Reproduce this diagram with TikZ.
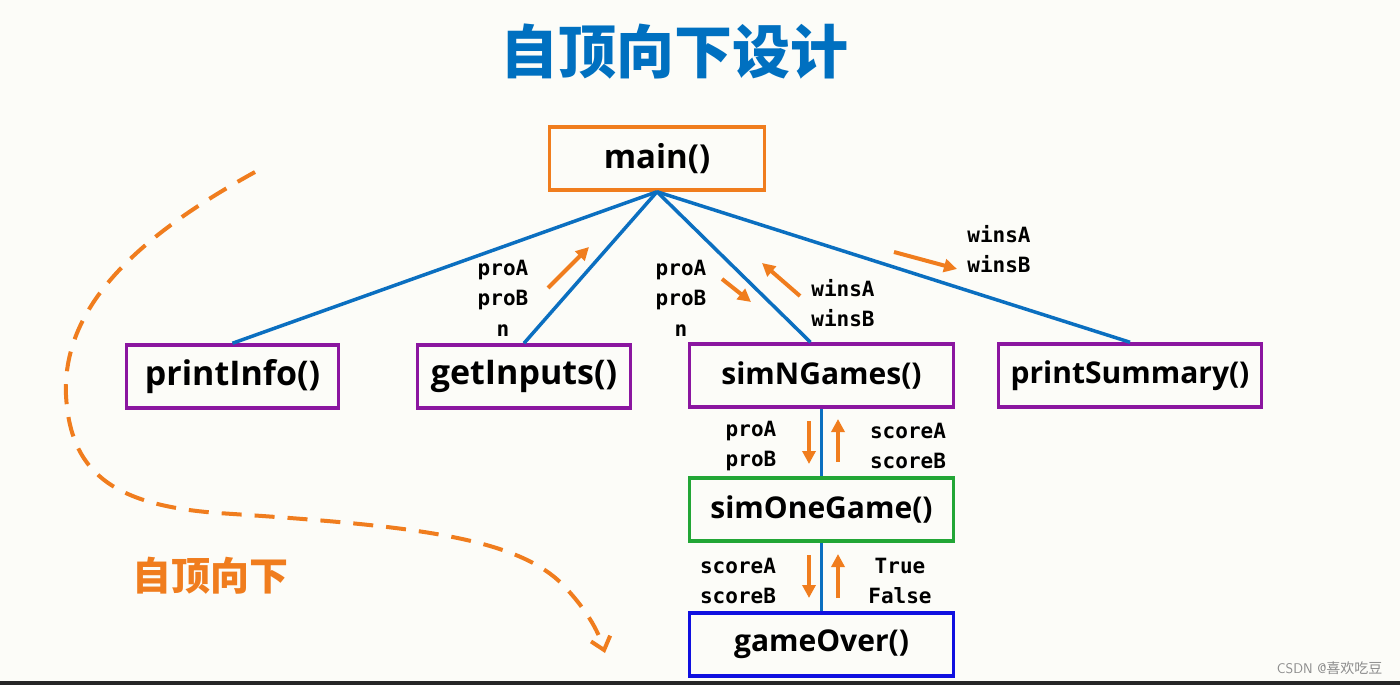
\documentclass[tikz,border=0pt]{standalone}
\usepackage{fontspec}
\setmainfont{Open Sans}
\newfontfamily\cjk{Noto Sans CJK SC}
\newfontfamily\mono{DejaVu Sans Mono}
\usetikzlibrary{arrows.meta,calc}
\definecolor{bg}{HTML}{FCFCF8}
\definecolor{tblue}{HTML}{0070C0}
\definecolor{lblue}{HTML}{0B6FC0}
\definecolor{ora}{HTML}{F07D1E}
\definecolor{pur}{HTML}{8B16A0}
\definecolor{grn}{HTML}{22A636}
\definecolor{dblue}{HTML}{1010E0}
\tikzset{
  fbox/.style={draw, line width=3.5pt, minimum width=#1, minimum height=63pt, inner sep=0pt,
    font=\fontsize{30}{32}\selectfont\bfseries, text=black},
  bigtxt/.style={font=\fontsize{34}{36}\selectfont\bfseries},
  link/.style={draw=lblue, line width=3.5pt},
  flow/.style={draw=ora, line width=4pt, -{Triangle[length=13pt,width=13pt]}},
  lbl/.style={font=\mono\bfseries\fontsize{21}{30.5}\selectfont, align=left, inner sep=0pt, text=black},
}
\begin{document}
\begin{tikzpicture}[x=1pt,y=-1pt]
\fill[bg] (0,0) rectangle (1400,685);
\useasboundingbox (0,0) rectangle (1400,685);
\fill[black!85] (0,681) rectangle (1400,685);
% title
\node[text=tblue, font=\cjk\bfseries\fontsize{58}{60}\selectfont] (title) at (674,52) {自顶向下设计};
% boxes
\node[fbox=215pt, draw=ora, font=\fontsize{33}{35}\selectfont\bfseries] (main) at (657,158.5) {main()};
\node[fbox=212pt, draw=pur, bigtxt] (pi) at (232.5,376.5) {printInfo()};
\node[fbox=213pt, draw=pur, bigtxt] (gi) at (524,376.5) {getInputs()};
\node[fbox=264pt, draw=pur] (sn) at (821.5,375.5) {simNGames()};
\node[fbox=263pt, draw=pur] (ps) at (1130,375.5) {printSummary()};
\node[fbox=264pt, draw=grn] (so) at (821.5,509.5) {simOneGame()};
\node[fbox=264pt, draw=dblue] (go) at (821.5,644.5) {gameOver()};
% links
\draw[link] (main.south) -- (pi.north);
\draw[link] (main.south) -- (gi.north);
\draw[link] (main.south) -- ($(sn.north)+(-11,0)$);
\draw[link] (main.south) -- (ps.north);
\draw[link] (sn.south) -- (so.north);
\draw[link] (so.south) -- (go.north);
% flow arrows
\coordinate (a1s) at (548,288); \coordinate (a1e) at (589,247);
\coordinate (a2s) at (722,279); \coordinate (a2e) at (751,302);
\coordinate (a3s) at (800,296); \coordinate (a3e) at (762,263);
\coordinate (a4s) at (894,252); \coordinate (a4e) at (957,269);
\coordinate (a5s) at (809,421); \coordinate (a5e) at (809,464);
\coordinate (a6s) at (838,462); \coordinate (a6e) at (838,419);
\coordinate (a7s) at (809,555); \coordinate (a7e) at (809,598);
\coordinate (a8s) at (838,598); \coordinate (a8e) at (838,554);
\draw[flow] (a1s) -- (a1e);
\draw[flow] (a2s) -- (a2e);
\draw[flow] (a3s) -- (a3e);
\draw[flow] (a4s) -- (a4e);
\draw[flow] (a5s) -- (a5e);
\draw[flow] (a6s) -- (a6e);
\draw[flow] (a7s) -- (a7e);
\draw[flow] (a8s) -- (a8e);
% labels
\node[lbl, align=center] (l1) at (503,298) {proA\\proB\\n};
\node[lbl, align=center] (l2) at (681,298) {proA\\proB\\n};
\node[lbl] (l3) at (843,303) {winsA\\winsB};
\node[lbl] (l4) at (999,249) {winsA\\winsB};
\node[lbl] (l5) at (751,446) {proA\\proB};
\node[lbl] (l6) at (908,446) {scoreA\\scoreB};
\node[lbl] (l7) at (738,581) {scoreA\\scoreB};
\node[lbl, align=center] (l8) at (900,581) {True\\False};
% dashed top-down curve
\coordinate (c0) at (255,172);
\coordinate (c1) at (605,653);
\draw[ora, line width=4pt, dash pattern=on 20pt off 13pt, -{Straight Barb[length=12pt,width=20pt]}]
  (c0) .. controls (150,230) and (62,300) .. (66,395)
  .. controls (70,470) and (110,505) .. (218,513)
  .. controls (400,525) and (510,535) .. (560,582)
  .. controls (585,607) and (598,630) .. (c1);
\node[text=ora, font=\cjk\bfseries\fontsize{39}{40}\selectfont] (td) at (210,576) {自顶向下};
% csdn watermark
\node[text=black!45, font=\fontsize{14}{15}\selectfont\sffamily, anchor=east] (csdn) at (1386,668) {CSDN @{\cjk 喜欢吃豆}};
\end{tikzpicture}
\end{document}
